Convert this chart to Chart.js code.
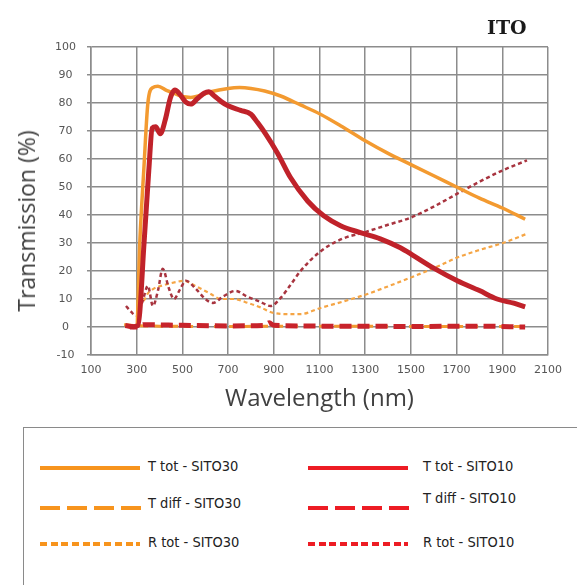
<!DOCTYPE html>
<html>
<head>
<meta charset="utf-8">
<script src="https://cdn.jsdelivr.net/npm/chart.js@4"></script>
<style>
  body { margin: 0; background: #fff; width: 577px; height: 585px; overflow: hidden; position: relative; font-family: "Open Sans", sans-serif; }
  #wrap { position: absolute; left: 0; top: 0; width: 577px; height: 420px; }
  #ito { position: absolute; left: 487px; top: 16px; font-family: "DejaVu Serif", serif; font-weight: bold; font-size: 19px; color: #1a1a1a; }
  #ytitle { position: absolute; left: 26px; top: 221px; transform: translate(-50%, -50%) rotate(-90deg); white-space: nowrap; font-family: "Open Sans", sans-serif; font-size: 23px; color: #404040; }
  #legend { position: absolute; left: 23px; top: 427px; width: 600px; height: 200px; border-left: 1.5px solid #8a8a8a; border-top: 1.5px solid #8a8a8a; }
  .item { position: absolute; font-family: "DejaVu Sans Condensed", sans-serif; font-size: 14.5px; color: #222; line-height: 18px; }
  .ln { position: absolute; height: 4px; }
</style>
</head>
<body>
<div id="wrap"><canvas id="spectra"></canvas></div>
<div id="ito">ITO</div>
<div id="ytitle">Transmission (%)</div>
<div id="legend"></div>
<script>
// wavelength (nm) / value (%) pairs
const tTot30Nm = [280, 300, 314, 331, 349, 370, 393, 430, 462, 500, 537, 580, 624, 700, 750, 800, 860, 930, 1017, 1104, 1200, 1300, 1400, 1500, 1600, 1700, 1800, 1900, 2000];
const tTot30 = [0, 0.5, 31, 56, 80, 85.5, 86, 84.5, 83.5, 82.3, 82, 82.8, 84, 85.2, 85.5, 85.2, 84.3, 82.5, 79.3, 76, 71.5, 66.5, 62, 58, 54, 50, 46, 42.5, 38.5];

const tDiff30Nm = [245, 300, 400, 700, 1000, 1500, 2000];
const tDiff30 = [0.8, 0.5, 0.3, 0.2, 0.3, 0.2, 0.2];

const rTot30Nm = [331, 349, 371, 420, 470, 506, 560, 620, 668, 725, 790, 842, 900, 973, 1017, 1104, 1200, 1310, 1400, 1497, 1600, 1703, 1800, 1903, 2008];
const rTot30 = [9.3, 12, 13.5, 15, 16, 16.5, 14.5, 12, 10, 10, 8.5, 7, 5, 4.6, 4.6, 6.8, 9, 11.8, 14.5, 17.6, 21, 24.8, 27.5, 30, 33.3];

const tTot10Nm = [270, 305, 333, 353, 368, 383, 403, 425, 448, 467, 490, 515, 537, 565, 595, 615, 640, 670, 700, 755, 800, 829, 864, 917, 973, 1048, 1117, 1192, 1279, 1366, 1454, 1511, 1600, 1703, 1800, 1877, 1950, 2000];
const tTot10 = [0, 0.5, 31, 56, 71, 71.5, 69, 74, 82, 84.6, 83, 80.3, 79.6, 81.5, 83.5, 84, 82.5, 80.5, 79, 77.4, 76, 73, 69, 62, 53.4, 45, 39.8, 36.2, 33.7, 31.5, 28.3, 25.5, 21, 16.5, 13, 10, 8.5, 7.2];

const tDiff10Nm = [250, 300, 330, 500, 700, 860, 880, 900, 1200, 1500, 1800, 2000];
const tDiff10 = [0.5, 0, 0.8, 0.6, 0.4, 0.6, 1.5, 0.6, 0.3, 0.2, 0.3, 0];

const rTot10Nm = [253, 275, 297, 325, 349, 371, 393, 414, 440, 463, 490, 515, 560, 600, 633, 680, 733, 780, 840, 886, 930, 973, 1017, 1104, 1200, 1292, 1400, 1497, 1600, 1703, 1803, 1903, 2008];
const rTot10 = [7.5, 5.5, 4, 9, 14.7, 7.5, 13, 20.8, 14, 10, 13.5, 16.5, 13.5, 10, 8.6, 11, 12.9, 11, 9, 7.5, 10.4, 15, 20, 27, 31.5, 33.7, 36.5, 39, 43, 47.6, 52, 56, 59.5];

const xTicks = [100, 300, 500, 700, 900, 1100, 1300, 1500, 1700, 1900, 2100];
const yTicks = [-10, 0, 10, 20, 30, 40, 50, 60, 70, 80, 90, 100];

const legendLabels = ["T tot - SITO30", "T diff - SITO30", "R tot - SITO30", "T tot - SITO10", "T diff - SITO10", "R tot - SITO10"];

function pts(nm, v) { return nm.map((x, i) => ({ x: x, y: v[i] })); }

const orange = "#F39A30";
const red = "#C0222A";

var ctx = document.getElementById("spectra").getContext("2d");
const config = new Chart(ctx, {
  type: 'line',
  data: {
    datasets: [
      { label: legendLabels[3], data: pts(tTot10Nm, tTot10), borderColor: red, borderWidth: 5, order: 1 },
      { label: legendLabels[4], data: pts(tDiff10Nm, tDiff10), borderColor: "#C8232B", borderWidth: 5, borderDash: [12, 6], order: 2 },
      { label: legendLabels[0], data: pts(tTot30Nm, tTot30), borderColor: orange, borderWidth: 3.5, order: 3 },
      { label: legendLabels[5], data: pts(rTot10Nm, rTot10), borderColor: "#A8343F", borderWidth: 2.5, borderDash: [4, 3], order: 4 },
      { label: legendLabels[2], data: pts(rTot30Nm, rTot30), borderColor: "#F5A545", borderWidth: 2.2, borderDash: [4, 3], order: 5 },
      { label: legendLabels[1], data: pts(tDiff30Nm, tDiff30), borderColor: orange, borderWidth: 3, borderDash: [9, 6], order: 6 }
    ]
  },
  options: {
    responsive: true,
    maintainAspectRatio: false,
    animation: false,
    layout: { padding: { top: 47, right: 29, left: 0, bottom: 0 } },
    elements: {
      point: { radius: 0 },
      line: { cubicInterpolationMode: 'monotone', fill: false, borderCapStyle: 'butt' }
    },
    plugins: { legend: { display: false }, tooltip: { enabled: false } },
    scales: {
      x: {
        type: 'linear',
        min: 100,
        max: 2100,
        afterBuildTicks: s => { s.ticks = xTicks.map(v => ({ value: v })); },
        afterFit: s => { s.height = 65; },
        grid: { color: "#8c8c8c", lineWidth: 1.5, drawTicks: false },
        border: { color: "#8c8c8c", width: 1.5 },
        ticks: { padding: 9, color: "#555", font: { family: "DejaVu Sans", size: 11 }, callback: v => String(v) },
        title: { display: true, text: "Wavelength (nm)", color: "#404040", padding: { bottom: 6 }, font: { family: "Open Sans", size: 24 } }
      },
      y: {
        min: -10,
        max: 100,
        afterBuildTicks: s => { s.ticks = yTicks.map(v => ({ value: v })); },
        afterFit: s => { s.width = 91; },
        grid: { color: "#8c8c8c", lineWidth: 1.5, tickLength: 4 },
        border: { color: "#8c8c8c", width: 1.5 },
        ticks: { padding: 11, crossAlign: 'center', color: "#555", font: { family: "DejaVu Sans", size: 11 }, callback: v => String(v) }
      }
    }
  }
});

// legend box below the chart
const legendColors = ["#F7941D", "#F7941D", "#F7941D", "#ED1C24", "#ED1C24", "#ED1C24"];
const legendStyles = ["solid", "dash", "dot", "solid", "dash", "dot"];
const box = document.getElementById("legend");
legendLabels.forEach((lab, i) => {
  const col = i < 3 ? 0 : 1;
  const row = i % 3;
  const lineLeft = col === 0 ? 16 : 284;
  const lineTop = [38, 78, 114][row];
  const ln = document.createElement("div");
  ln.className = "ln";
  ln.style.left = lineLeft + "px";
  ln.style.top = lineTop + "px";
  ln.style.width = (legendStyles[i] === "dash" ? 103 : 100) + "px";
  const c = legendColors[i];
  if (legendStyles[i] === "solid") ln.style.background = c;
  else if (legendStyles[i] === "dash") ln.style.background = "repeating-linear-gradient(to right," + c + " 0 20px, transparent 20px 27px)";
  else ln.style.background = "repeating-linear-gradient(to right," + c + " 0 7px, transparent 7px 10.7px)";
  box.appendChild(ln);
  const t = document.createElement("div");
  t.className = "item";
  t.textContent = lab;
  t.style.left = (col === 0 ? 124 : 399) + "px";
  t.style.top = ([29, 66, 105][row] + (col === 1 && row === 1 ? -5 : 0)) + "px";
  box.appendChild(t);
});
</script>
</body>
</html>
